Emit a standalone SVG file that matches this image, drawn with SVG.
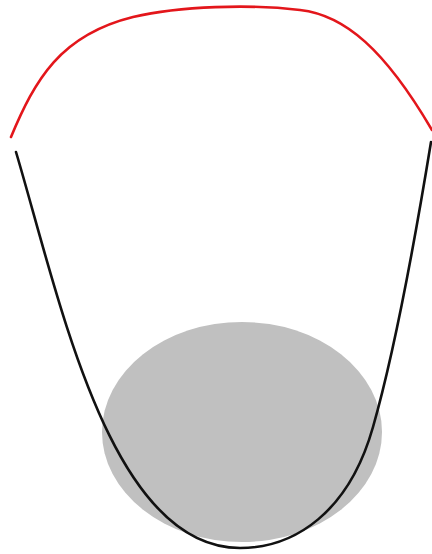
<svg xmlns="http://www.w3.org/2000/svg" width="432" height="554" viewBox="0 0 432 554">
<style>
.curve{fill:none;stroke-width:2.6;stroke-linecap:round}
</style>
<rect width="432" height="554" fill="#ffffff"/>
<ellipse id="blob" cx="242" cy="432" rx="140" ry="110" fill="#c0c0c0"/>
<path id="red" class="curve" stroke="#e3161b" d="M11,137 C35,80 60,35 133,17 C180,6 250,4 300,10 C345,15 385,50 432,130"/>
<path id="black" class="curve" stroke="#111111" d="M16,152 C60,300 110,548 240,548 C295,548 349,512 373,427 C395,350 415,240 431,142"/>
</svg>
